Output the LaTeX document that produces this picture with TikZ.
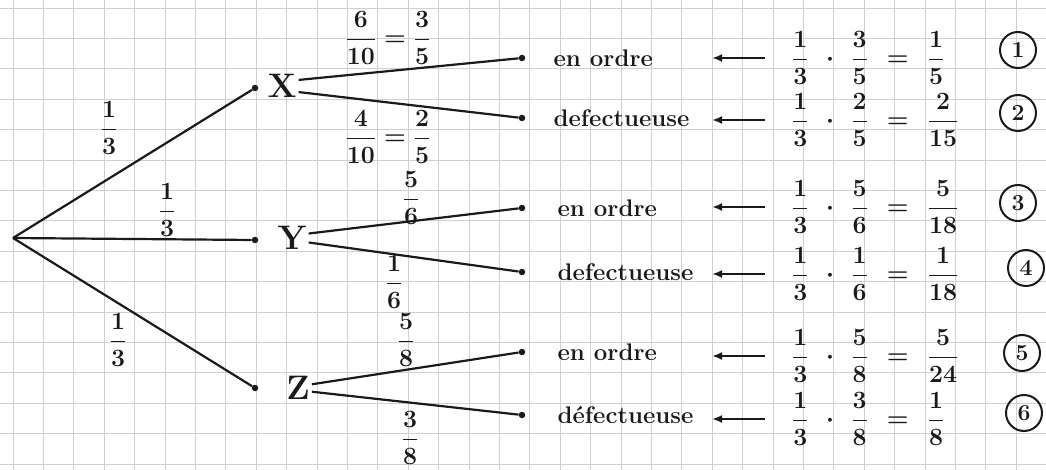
\documentclass[tikz,border=0pt]{standalone}
\usepackage{amsmath}
\usepackage{tikz}
\usetikzlibrary{arrows.meta,positioning}
\definecolor{GridGray}{HTML}{D0D0D0}
\definecolor{InkBlack}{HTML}{1A1A1A}
\newcommand{\probrow}[6]{$\dfrac{#1}{#2}\mkern7mu\cdot\mkern7mu\dfrac{#3}{#4}\mkern7mu=\mkern7mu\dfrac{#5}{#6}$}

\begin{document}
\begin{tikzpicture}[x=1pt,y=-1pt,
  font=\fontsize{24}{28}\selectfont\bfseries\boldmath,
  gridline/.style={draw=GridGray,line width=0.9pt},
  branch/.style={draw=InkBlack,line width=2.2pt},
  dot/.style={circle,fill=InkBlack,inner sep=0pt,minimum size=6.5pt},
  event/.style={inner sep=2pt,font=\fontsize{34}{40}\selectfont\bfseries,text=InkBlack},
  outcome/.style={inner sep=0pt,text=InkBlack},
  prob/.style={inner sep=0pt,text=InkBlack},
  result/.style={anchor=west,inner sep=0pt,text=InkBlack},
  tag/.style={circle,draw=InkBlack,line width=2pt,minimum size=36pt,inner sep=0pt,
              text=InkBlack,font=\fontsize{23}{26}\selectfont\bfseries},
  arrow/.style={-{Latex[length=10pt,width=8pt]},line width=2.2pt,draw=InkBlack}]
\useasboundingbox (0,0) rectangle (1046,470);
\fill[white] (0,0) rectangle (1046,470);
% grid paper
\foreach \i in {0,...,34} \draw[gridline] (13+30.4*\i,0) -- (13+30.4*\i,470);
\foreach \j in {0,...,15} \draw[gridline] (0,8+30.4*\j) -- (1046,8+30.4*\j);
% first level
\coordinate (root) at (13,238);
\node[dot] (dx) at (255,88) {};
\node[dot] (dy) at (255,240) {};
\node[dot] (dz) at (255,388) {};
\node[event] (X) at (282,86) {X};
\node[event] (Y) at (292,238) {Y};
\node[event] (Z) at (298,388) {Z};
\node[prob] (pX) at (109,128) {$\dfrac13$};
\node[prob] (pY) at (167,210) {$\dfrac13$};
\node[prob] (pZ) at (118,340) {$\dfrac13$};
% second level
\node[dot] (l1) at (522,58) {};
\node[dot] (l2) at (522,118) {};
\node[dot] (l3) at (522,208) {};
\node[dot] (l4) at (522,272) {};
\node[dot] (l5) at (522,352) {};
\node[dot] (l6) at (522,415) {};
\node[outcome, right=28pt of l1] (o1) {en ordre};
\node[outcome, right=28pt of l2] (o2) {defectueuse};
\node[outcome, right=32pt of l3] (o3) {en ordre};
\node[outcome, right=32pt of l4] (o4) {defectueuse};
\node[outcome, right=32pt of l5] (o5) {en ordre};
\node[outcome, right=32pt of l6] (o6) {défectueuse};
\node[prob] (pXa) at (388,38) {$\dfrac{6}{10}=\dfrac35$};
\node[prob] (pXb) at (388,137) {$\dfrac{4}{10}=\dfrac25$};
\node[prob] (pYa) at (411,198) {$\dfrac56$};
\node[prob] (pYb) at (394,282) {$\dfrac16$};
\node[prob] (pZa) at (406,340) {$\dfrac58$};
\node[prob] (pZb) at (410,438) {$\dfrac38$};
% products
\node[result] (f1) at (792,58) {\probrow{1}{3}{3}{5}{1}{5}};
\node[result] (f2) at (792,120) {\probrow{1}{3}{2}{5}{2}{15}};
\node[result] (f3) at (792,207) {\probrow{1}{3}{5}{6}{5}{18}};
\node[result] (f4) at (792,274) {\probrow{1}{3}{1}{6}{1}{18}};
\node[result] (f5) at (792,356) {\probrow{1}{3}{5}{8}{5}{24}};
\node[result] (f6) at (792,419) {\probrow{1}{3}{3}{8}{1}{8}};
\node[tag] (c1) at (1018,50) {1};
\node[tag] (c2) at (1018,113) {2};
\node[tag] (c3) at (1018,203) {3};
\node[tag] (c4) at (1026,268) {4};
\node[tag] (c5) at (1022,353) {5};
\node[tag] (c6) at (1024,413) {6};
\draw[branch] (root) -- (dx);
\draw[branch] (root) -- (dy);
\draw[branch] (root) -- (dz);
\draw[branch] (X.20) -- (l1);
\draw[branch] (X.-20) -- (l2);
\draw[branch] (Y.15) -- (l3);
\draw[branch] (Y.-15) -- (l4);
\draw[branch] (Z.15) -- (l5);
\draw[branch] (Z.-15) -- (l6);
\foreach \k in {1,...,6}
  \draw[arrow] ([xshift=-27pt]f\k.west) -- ([xshift=-80pt]f\k.west);
\end{tikzpicture}
\end{document}
